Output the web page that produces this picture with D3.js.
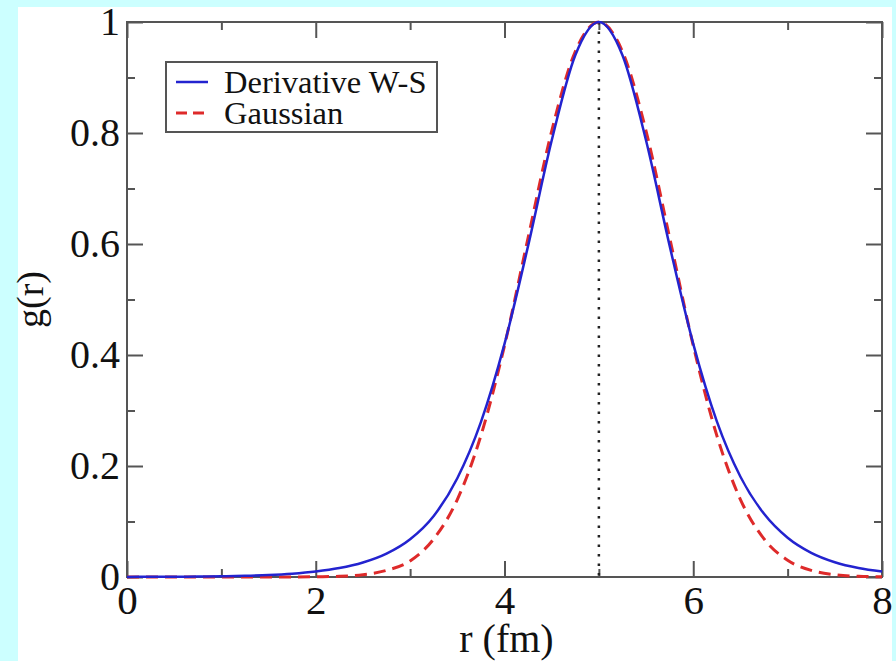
<!DOCTYPE html>
<html>
<head>
<meta charset="utf-8">
<script src="https://cdn.jsdelivr.net/npm/d3@7"></script>
<style>
  html, body { margin: 0; padding: 0; background: #ccffff; }
  svg { display: block; }
</style>
</head>
<body>
<svg id="chart" width="896" height="661"></svg>
<script>
// ---- data ----
const rValues = [0,0.25,0.5,0.75,1,1.25,1.5,1.75,2,2.25,2.5,2.75,3,3.25,3.5,3.75,4,4.25,4.5,4.75,5,5.25,5.5,5.75,6,6.25,6.5,6.75,7,7.25,7.5,7.75,8];
const derivativeWS = [0.0002,0.0003,0.0005,0.0008,0.0013,0.0022,0.0036,0.0060,0.0099,0.0161,0.0261,0.0421,0.0680,0.1100,0.1780,0.2790,0.4200,0.5966,0.7864,0.9400,1.0,0.9400,0.7864,0.5966,0.4200,0.2804,0.1807,0.1138,0.0707,0.0435,0.0266,0.0162,0.0099];
const gaussian = [0,0,0,0,0,0,0,0,0.0004,0.0013,0.0042,0.0119,0.0290,0.0686,0.1396,0.2548,0.4169,0.6113,0.8035,0.9468,1.0,0.9468,0.8035,0.6113,0.4169,0.2548,0.1396,0.0686,0.0302,0.0119,0.0042,0.0013,0.0004];
const xMajorTicks = [0,2,4,6,8];
const xMinorTicks = [1,3,5,7];
const yMajorTicks = [0,0.2,0.4,0.6,0.8,1];
const yMinorTicks = [0.1,0.3,0.5,0.7,0.9];
const yTickLabels = ["0","0.2","0.4","0.6","0.8","1"];
const peakR = 5;
const seriesNames = ["Derivative W-S","Gaussian"];
const xTitle = "r (fm)";
const yTitle = "g(r)";

// ---- layout ----
const svg = d3.select("#chart");
const L = 127, R = 882, T = 22, B = 577;
const font = "'Liberation Serif','Times New Roman',Times,serif";
const axisColor = "#555";
const blue = "#2323cf", red = "#de2a2a";

svg.append("rect").attr("x",0).attr("y",0).attr("width",896).attr("height",661).attr("fill","#ccffff");
svg.append("rect").attr("x",18).attr("y",7).attr("width",874).attr("height",654).attr("fill","#ffffff");

const x = d3.scaleLinear().domain([0,8]).range([L,R]);
const y = d3.scaleLinear().domain([0,1]).range([B,T]);

function styleAxis(g){
  g.select(".domain").remove();
  g.selectAll(".tick line").attr("stroke",axisColor).attr("stroke-width",2);
  g.selectAll(".tick text").attr("fill","#111").attr("font-family",font);
}

// bottom axis with labels
svg.append("g").attr("transform",`translate(0,${B})`)
  .call(d3.axisBottom(x).tickValues(xMajorTicks).tickFormat(d3.format("d")).tickSize(-16).tickSizeOuter(0).tickPadding(8))
  .call(styleAxis).call(g=>g.selectAll(".tick text").attr("font-size",41));
svg.append("g").attr("transform",`translate(0,${B})`)
  .call(d3.axisBottom(x).tickValues(xMinorTicks).tickFormat("").tickSize(-8).tickSizeOuter(0))
  .call(styleAxis);
// top axis
svg.append("g").attr("transform",`translate(0,${T})`)
  .call(d3.axisTop(x).tickValues(xMajorTicks).tickFormat("").tickSize(-16).tickSizeOuter(0))
  .call(styleAxis);
svg.append("g").attr("transform",`translate(0,${T})`)
  .call(d3.axisTop(x).tickValues(xMinorTicks).tickFormat("").tickSize(-8).tickSizeOuter(0))
  .call(styleAxis);
// left axis with labels
svg.append("g").attr("transform",`translate(${L},0)`)
  .call(d3.axisLeft(y).tickValues(yMajorTicks).tickFormat((d,i)=>yTickLabels[i]).tickSize(-16).tickSizeOuter(0).tickPadding(7))
  .call(styleAxis).call(g=>g.selectAll(".tick text").attr("font-size",40));
svg.append("g").attr("transform",`translate(${L},0)`)
  .call(d3.axisLeft(y).tickValues(yMinorTicks).tickFormat("").tickSize(-8).tickSizeOuter(0))
  .call(styleAxis);
// right axis
svg.append("g").attr("transform",`translate(${R},0)`)
  .call(d3.axisRight(y).tickValues(yMajorTicks).tickFormat("").tickSize(-16).tickSizeOuter(0))
  .call(styleAxis);
svg.append("g").attr("transform",`translate(${R},0)`)
  .call(d3.axisRight(y).tickValues(yMinorTicks).tickFormat("").tickSize(-8).tickSizeOuter(0))
  .call(styleAxis);

// frame
svg.append("rect").attr("x",L).attr("y",T).attr("width",R-L).attr("height",B-T)
  .attr("fill","none").attr("stroke",axisColor).attr("stroke-width",2);

// vertical dotted line at peak
svg.append("line").attr("x1",x(peakR)).attr("x2",x(peakR)).attr("y1",y(1)).attr("y2",y(0))
  .attr("stroke","#222").attr("stroke-width",2.5).attr("stroke-dasharray","2.5,7");

// curves
const line = d3.line().x(d=>x(d[0])).y(d=>y(d[1])).curve(d3.curveMonotoneX);
svg.append("path").datum(rValues.map((r,i)=>[r,gaussian[i]]))
  .attr("d",line).attr("fill","none").attr("stroke",red).attr("stroke-width",3)
  .attr("stroke-dasharray","12,7");
svg.append("path").datum(rValues.map((r,i)=>[r,derivativeWS[i]]))
  .attr("d",line).attr("fill","none").attr("stroke",blue).attr("stroke-width",2.5);

// legend
const lg = svg.append("g");
lg.append("rect").attr("x",166).attr("y",62).attr("width",271).attr("height",70)
  .attr("fill","#fff").attr("stroke",axisColor).attr("stroke-width",2);
lg.append("line").attr("x1",176).attr("x2",208).attr("y1",82).attr("y2",82)
  .attr("stroke",blue).attr("stroke-width",2.5);
lg.append("line").attr("x1",176).attr("x2",208).attr("y1",113).attr("y2",113)
  .attr("stroke",red).attr("stroke-width",3).attr("stroke-dasharray","11,6");
lg.append("text").attr("x",224).attr("y",93).attr("font-family",font).attr("font-size",32.5)
  .attr("fill","#111").text(seriesNames[0]);
lg.append("text").attr("x",224).attr("y",124).attr("font-family",font).attr("font-size",32.5)
  .attr("fill","#111").text(seriesNames[1]);

// axis titles
svg.append("text").attr("x",(L+R)/2 + 2).attr("y",652).attr("text-anchor","middle")
  .attr("font-family",font).attr("font-size",40).attr("fill","#111").text(xTitle);
svg.append("text").attr("transform",`translate(43,${(T+B)/2}) rotate(-90)`).attr("text-anchor","middle")
  .attr("font-family",font).attr("font-size",38).attr("fill","#111").text(yTitle);
</script>
</body>
</html>
